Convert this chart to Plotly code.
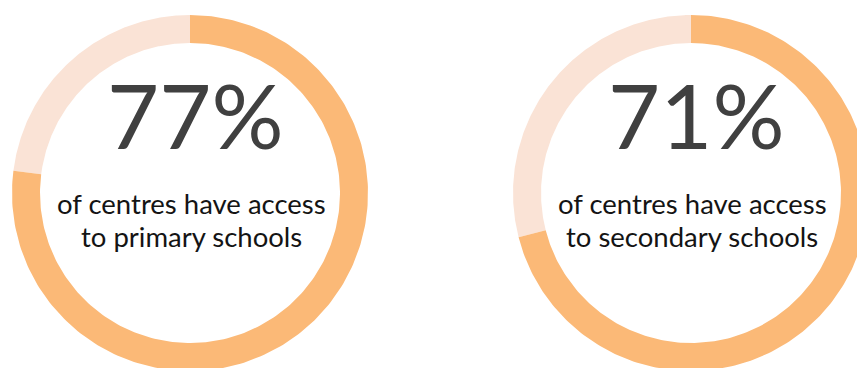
import numpy as np
import plotly.graph_objects as go

# Share of centres with access, per school level
levels = ["primary", "secondary"]
access_pct = [77, 71]
headline = ["77%", "71%"]
caption_line1 = ["of centres have access", "of centres have access"]
caption_line2 = ["to primary schools", "to secondary schools"]

W, H = 857, 368
ORANGE = "#FBB977"
PALE = "#FAE3D6"
centers = [(190, 193), (691, 193)]
R_OUT, R_IN = 178, 150


def ring_segment(cx, cy, start_frac, end_frac, n=240):
    """Filled annular wedge, clockwise from 12 o'clock, in screen-like coords (y down)."""
    a = np.linspace(start_frac, end_frac, n) * 2 * np.pi
    xo = cx + R_OUT * np.sin(a)
    yo = cy - R_OUT * np.cos(a)
    xi = cx + R_IN * np.sin(a[::-1])
    yi = cy - R_IN * np.cos(a[::-1])
    return np.concatenate([xo, xi, xo[:1]]), np.concatenate([yo, yi, yo[:1]])


fig = go.Figure()
for (cx, cy), pct in zip(centers, access_pct):
    frac = pct / 100.0
    for s, e, col in [(frac, 1.0, PALE), (0.0, frac, ORANGE)]:
        xs, ys = ring_segment(cx, cy, s, e)
        fig.add_trace(go.Scatter(x=xs, y=ys, mode="lines", fill="toself",
                                 fillcolor=col, line=dict(width=0, color=col),
                                 hoverinfo="skip", showlegend=False))

for (cx, cy), big, l1, l2 in zip(centers, headline, caption_line1, caption_line2):
    fig.add_annotation(x=cx + 5, y=cy - 79, xref="x", yref="y", text=big,
                       showarrow=False, xanchor="center", yanchor="middle",
                       font=dict(family="Lato", size=90, color="#404040"))
    for dy, line in [(10, l1), (43, l2)]:
        fig.add_annotation(x=cx + 1, y=cy + dy, xref="x", yref="y", text=line,
                           showarrow=False, xanchor="center", yanchor="middle",
                           font=dict(family="Lato", size=27.5, color="#141414"))

fig.update_layout(
    width=W, height=H,
    margin=dict(l=0, r=0, t=0, b=0),
    paper_bgcolor="white", plot_bgcolor="white",
    xaxis=dict(range=[0, W], visible=False, fixedrange=True),
    yaxis=dict(range=[H, 0], visible=False, fixedrange=True),
)

fig.write_html("out.html")
